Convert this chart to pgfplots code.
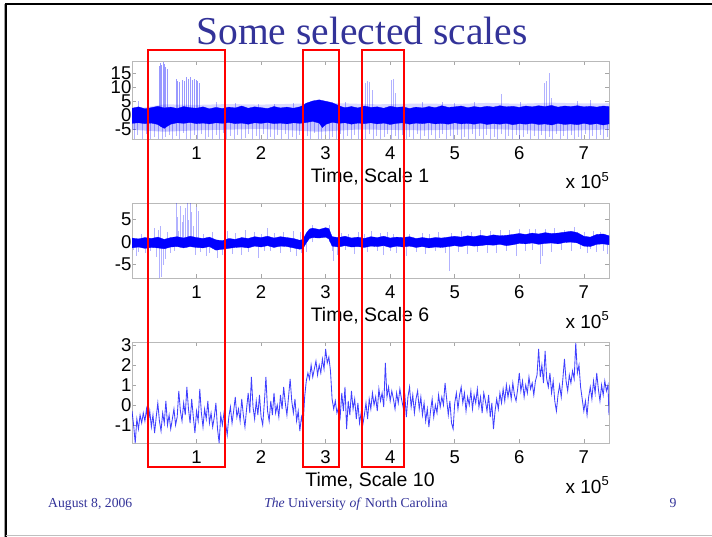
\documentclass[border=0pt]{standalone}
\usepackage{pgfplots}
\pgfplotsset{compat=1.18}
\usepackage{fontspec}
\setmainfont{Liberation Sans}
\newfontfamily\tnr{Liberation Serif}
\definecolor{titleblue}{RGB}{51,51,153}
\definecolor{framegray}{RGB}{160,160,160}
\pgfplotsset{
  slide/.style={scale only axis, width=477pt, xmin=0, xmax=7.39,
    xtick={1,2,3,4,5,6,7},
    axis line style={draw=gray!55}, tick style={draw=gray!70, line width=0.5pt},
    major tick length=4pt, tick align=inside,
    tick label style={font=\fontsize{18.5}{18.5}\selectfont, text=black},
    /pgf/number format/assume math mode=true,
    xticklabel style={inner sep=0pt, yshift=-7.6pt},
    yticklabel style={inner sep=0.5pt},
    anchor=south west, clip=true}
}
\begin{document}
\begin{tikzpicture}
\useasboundingbox (0,0) rectangle (712pt,-537pt);
\fill[white] (0,0) rectangle (712pt,-537pt);

% ---------------- Scale 1 ----------------
\begin{axis}[slide, at={(132pt,-139pt)}, height=78pt, ymin=-8.6, ymax=19.3, ytick={-5,0,5,10,15}]
\addplot[fill=blue, fill opacity=0.22, draw=none] coordinates {
(0,-2.5) (7.39,-2.5) (7.39,-5.2) (6.5,-5.8) (5.5,-5.0) (4.5,-5.5) (3.5,-5.2) (2.9,-6.0) (2.0,-5.0) (1.0,-5.5) (0.5,-6.0) (0,-5.3)};
\addplot[fill=blue, fill opacity=0.15, draw=none] coordinates {
(0,2) (0.5,3.8) (1.0,3.6) (1.5,3.9) (2.0,3.7) (2.5,4.0) (3.2,4.2) (3.8,3.8) (4.5,4.1) (5.0,3.9) (5.5,4.3) (6.0,4.0) (6.5,4.4) (7.0,4.1) (7.39,4.2) (7.39,2) };
\addplot[ycomb, draw=blue, opacity=0.3, line width=0.8pt] coordinates {
(0.03,-8.6) (0.09,-7.2) (0.16,-8.6) (0.22,-6.8) (0.29,-8.6) (0.35,-7.9) (0.41,-8.6) (0.47,-8.6) (0.52,-8.0) (0.58,-7.0) (0.63,-8.6) (0.69,-7.6) (0.74,-8.6) (0.80,-6.5) (0.85,-8.6) (0.91,-8.6) (0.96,-7.3) (1.02,-8.6) (1.08,-6.9) (1.13,-8.6) (1.19,-7.8) (1.24,-8.6) (1.30,-7.1) (1.36,-8.6) (1.41,-6.6) (1.47,-8.6) (1.53,-7.7) (1.58,-8.6) (1.64,-7.0) (1.70,-8.6) (1.75,-8.1) (1.81,-6.8) (1.87,-8.6) (1.92,-7.4) (1.98,-8.6) (2.04,-6.9) (2.09,-8.6) (2.15,-7.8) (2.21,-8.6) (2.26,-7.2) (2.32,-8.6) (2.38,-6.7) (2.43,-8.6) (2.49,-7.9) (2.55,-8.6) (2.60,-7.0) (2.66,-8.6) (2.72,-7.5) (2.77,-8.6) (2.83,-6.6) (2.89,-8.6) (2.94,-8.6) (3.00,-7.3) (3.06,-8.6) (3.11,-7.9) (3.17,-8.6) (3.23,-6.8) (3.28,-8.6) (3.34,-7.6) (3.40,-8.6) (3.45,-7.0) (3.51,-8.6) (3.57,-7.8) (3.62,-8.6) (3.68,-6.9) (3.74,-8.6) (3.79,-7.4) (3.85,-8.6) (3.91,-8.0) (3.96,-6.7) (4.02,-8.6) (4.08,-7.5) (4.13,-8.6) (4.19,-7.1) (4.25,-8.6) (4.30,-7.9) (4.36,-8.6) (4.42,-6.8) (4.47,-8.6) (4.53,-7.6) (4.59,-8.6) (4.64,-7.0) (4.70,-8.6) (4.76,-8.1) (4.81,-6.9) (4.87,-8.6) (4.93,-7.4) (4.98,-8.6) (5.04,-7.0) (5.10,-8.6) (5.15,-7.8) (5.21,-8.6) (5.27,-6.7) (5.32,-8.6) (5.38,-7.5) (5.44,-8.6) (5.49,-7.1) (5.55,-8.6) (5.61,-7.9) (5.66,-8.6) (5.72,-6.8) (5.78,-8.6) (5.83,-7.6) (5.89,-8.6) (5.95,-7.0) (6.00,-8.6) (6.06,-8.0) (6.12,-6.9) (6.17,-8.6) (6.23,-7.4) (6.29,-8.6) (6.34,-7.1) (6.40,-8.6) (6.46,-7.8) (6.51,-8.6) (6.57,-6.8) (6.63,-8.6) (6.68,-7.5) (6.74,-8.6) (6.80,-7.0) (6.85,-8.6) (6.91,-7.9) (6.97,-8.6) (7.02,-6.7) (7.08,-8.6) (7.14,-7.6) (7.19,-8.6) (7.25,-7.1) (7.31,-8.6) (7.36,-7.8)};
\addplot[fill=blue, draw=blue, line width=0.3pt] coordinates {
(0.0,2.4) (0.1,2.9) (0.2,2.2) (0.3,2.6) (0.4,3.1) (0.5,2.5) (0.6,2.8) (0.7,2.3) (0.8,3.0) (0.9,2.6) (1.0,2.4) (1.1,2.9) (1.2,2.2) (1.3,2.7) (1.4,2.3) (1.5,2.8) (1.6,2.5) (1.7,3.2) (1.8,2.4) (1.9,2.9) (2.0,2.6) (2.1,2.3) (2.2,3.0) (2.3,2.5) (2.4,2.8) (2.5,2.4) (2.6,2.9) (2.65,3.4) (2.7,4.2) (2.8,5.0) (2.9,5.4) (3.0,4.9) (3.1,4.4) (3.2,3.4) (3.25,2.9) (3.3,2.6) (3.4,3.0) (3.5,2.5) (3.6,3.2) (3.7,2.7) (3.8,2.9) (3.9,2.4) (4.0,3.1) (4.1,2.7) (4.2,2.9) (4.3,2.3) (4.4,2.8) (4.5,2.5) (4.6,3.0) (4.7,2.6) (4.8,3.3) (4.9,2.7) (5.0,2.9) (5.1,3.2) (5.2,2.6) (5.3,3.0) (5.4,2.7) (5.5,3.1) (5.6,2.8) (5.7,3.3) (5.8,2.9) (5.9,3.1) (6.0,2.7) (6.1,3.2) (6.2,2.9) (6.3,3.3) (6.4,3.0) (6.5,3.4) (6.6,2.8) (6.7,3.2) (6.8,3.0) (6.9,3.3) (7.0,2.9) (7.1,3.1) (7.2,2.8) (7.3,3.2) (7.39,3.0)
(7.39,-3.2) (7.3,-3.6) (7.2,-3.1) (7.1,-3.4) (7.0,-3.0) (6.9,-3.5) (6.8,-3.2) (6.7,-3.4) (6.6,-3.0) (6.5,-3.6) (6.4,-3.2) (6.3,-3.4) (6.2,-3.0) (6.1,-3.3) (6.0,-3.1) (5.9,-3.5) (5.8,-3.0) (5.7,-3.3) (5.6,-3.1) (5.5,-3.4) (5.4,-2.9) (5.3,-3.3) (5.2,-3.0) (5.1,-3.2) (5.0,-2.8) (4.9,-3.3) (4.8,-3.0) (4.7,-3.2) (4.6,-2.8) (4.5,-3.1) (4.4,-2.9) (4.3,-3.3) (4.2,-2.8) (4.1,-3.0) (4.0,-3.4) (3.9,-2.9) (3.8,-3.2) (3.7,-2.8) (3.6,-3.1) (3.5,-2.9) (3.4,-3.3) (3.3,-2.8) (3.2,-3.0) (3.1,-2.6) (3.0,-3.4) (2.95,-4.5) (2.9,-2.9) (2.8,-2.3) (2.7,-2.7) (2.6,-3.0) (2.5,-2.8) (2.4,-3.2) (2.3,-2.9) (2.2,-3.1) (2.1,-2.7) (2.0,-3.0) (1.9,-2.8) (1.8,-3.3) (1.7,-2.9) (1.6,-3.1) (1.5,-2.7) (1.4,-3.0) (1.3,-2.8) (1.2,-3.2) (1.1,-2.9) (1.0,-3.1) (0.9,-2.7) (0.8,-3.0) (0.7,-2.8) (0.6,-3.3) (0.55,-4.0) (0.5,-4.8) (0.45,-4.2) (0.4,-3.4) (0.3,-2.9) (0.2,-3.1) (0.1,-2.8) (0.0,-3.0)};
\addplot[ycomb, draw=blue, opacity=0.3, line width=0.6pt] coordinates {
(0.1,5.0) (1.3,4.5) (1.6,4.3) (1.95,4.0) (2.2,4.0) (2.5,4.2) (3.3,4.5) (3.61,11.5) (3.64,12.3) (3.68,11.8) (3.72,9.0) (4.02,12.5) (4.05,13.0) (4.08,8.0) (4.5,4.5) (4.8,4.8) (5.0,4.2) (5.3,4.5) (5.72,7.5) (6.02,4.6) (6.38,11.5) (6.42,12.0) (6.46,14.9) (6.5,6.0) (6.9,5.0) (7.1,5.5)};
\addplot[ycomb, draw=blue, opacity=0.4, line width=0.7pt] coordinates {
(0.42,17.5) (0.44,18.6) (0.46,17.8) (0.48,18.9) (0.50,18.2) (0.52,17.0) (0.54,16.5)
(0.68,13.0) (0.71,12.2) (0.74,11.8) (0.78,12.6) (0.81,12.0) (0.84,13.4) (0.87,12.8) (0.90,13.6) (0.93,12.4) (0.96,13.0) (0.99,12.5) (1.02,12.2) (1.05,11.5)};
\end{axis}

% ---------------- Scale 6 ----------------
\begin{axis}[slide, at={(132pt,-278pt)}, height=75pt, ymin=-8, ymax=8.7, ytick={-5,0,5}]
\addplot[ycomb, draw=blue, opacity=0.3, line width=0.6pt] coordinates {
(0.02,-1.8) (0.06,-3.0) (0.1,-2.2) (0.15,1.8) (0.2,-2.5) (0.28,-1.9) (0.35,3.2) (0.38,-3.3) (0.4,2.6) (0.42,-8.0) (0.44,3.5) (0.46,-7.8) (0.48,-5.0) (0.52,-3.8) (0.55,2.2) (0.6,-2.4) (0.66,-2.0) (0.68,8.7) (0.7,5.5) (0.72,2.5) (0.75,8.0) (0.78,4.5) (0.8,6.0) (0.83,7.5) (0.85,8.7) (0.87,5.0) (0.9,8.7) (0.92,6.8) (0.95,3.5) (0.98,-2.8) (1.0,7.8) (1.02,7.0) (1.06,-2.2) (1.1,1.9) (1.15,-3.0) (1.2,-2.5) (1.25,2.2) (1.32,-3.5) (1.4,-2.8) (1.48,2.4) (1.55,-2.6) (1.6,2.0) (1.7,-2.8) (1.75,2.6) (1.8,-2.2) (1.9,2.3) (1.95,-3.5) (2.0,1.8) (2.05,-2.0) (2.1,3.2) (2.15,-1.9) (2.2,2.0) (2.3,-2.5) (2.35,2.2) (2.45,-2.2) (2.5,2.5) (2.55,-3.0) (2.6,2.2) (2.62,-2.5) (2.7,-2.2) (2.8,3.8) (3.05,3.7) (3.1,-2.0) (3.12,-4.2) (3.18,-2.8) (3.25,2.1) (3.3,-1.8) (3.35,1.9) (3.45,-2.6) (3.5,2.3) (3.55,-3.5) (3.6,1.8) (3.65,-2.2) (3.7,2.4) (3.8,-2.0) (3.85,2.0) (3.9,-2.8) (3.95,2.2) (4.0,-1.9) (4.05,1.8) (4.1,-2.4) (4.2,2.0) (4.25,-3.2) (4.3,1.9) (4.4,-2.2) (4.5,2.1) (4.55,-2.6) (4.6,1.8) (4.7,-2.0) (4.75,2.2) (4.85,-2.4) (4.92,-6.4) (4.95,2.0) (5.05,-2.2) (5.1,2.4) (5.2,-2.6) (5.25,2.2) (5.35,-2.2) (5.4,2.6) (5.5,-2.5) (5.55,2.5) (5.65,-2.4) (5.7,2.7) (5.8,-2.0) (5.85,2.6) (5.95,-3.0) (6.0,2.9) (6.1,-2.0) (6.15,2.8) (6.2,-1.8) (6.25,3.0) (6.32,-4.8) (6.35,-3.0) (6.4,2.9) (6.5,-2.2) (6.55,3.1) (6.65,-1.8) (6.7,2.7) (6.8,-2.0) (6.85,3.3) (6.95,-1.5) (7.0,2.2) (7.05,-2.5) (7.1,-1.6) (7.15,2.4) (7.2,-2.2) (7.25,2.2) (7.3,-2.0) (7.36,-2.6)};
\addplot[fill=blue, draw=blue, line width=0.3pt] coordinates {
(0.0,0.9) (0.1,0.7) (0.2,1.0) (0.3,0.8) (0.4,1.1) (0.5,0.6) (0.6,1.0) (0.7,1.2) (0.8,0.9) (0.9,1.3) (1.0,1.0) (1.1,0.8) (1.2,1.1) (1.3,0.5) (1.4,0.3) (1.5,0.8) (1.6,0.6) (1.7,1.0) (1.8,0.8) (1.9,1.2) (2.0,1.0) (2.1,1.3) (2.2,0.9) (2.3,1.2) (2.4,1.0) (2.5,0.8) (2.6,0.4) (2.65,0.6) (2.7,2.0) (2.75,2.9) (2.8,3.1) (2.9,2.8) (3.0,3.2) (3.05,3.0) (3.1,1.2) (3.2,1.0) (3.3,1.3) (3.4,0.9) (3.5,1.1) (3.6,0.8) (3.7,1.2) (3.8,1.0) (3.9,1.3) (4.0,0.9) (4.1,1.1) (4.2,1.0) (4.3,1.2) (4.4,0.8) (4.5,1.0) (4.6,0.8) (4.7,1.0) (4.8,0.9) (4.9,1.1) (5.0,1.3) (5.1,1.1) (5.2,1.4) (5.3,1.2) (5.4,1.5) (5.5,1.3) (5.6,1.6) (5.7,1.4) (5.8,1.5) (5.9,1.7) (6.0,1.9) (6.1,1.7) (6.2,2.0) (6.3,1.8) (6.4,2.1) (6.5,1.9) (6.6,2.0) (6.7,2.2) (6.8,2.4) (6.9,2.1) (7.0,1.3) (7.1,1.1) (7.2,1.7) (7.3,1.8) (7.39,1.4)
(7.39,-0.6) (7.3,-0.4) (7.2,-0.5) (7.1,-1.0) (7.0,-0.9) (6.9,-0.2) (6.8,0.0) (6.7,-0.1) (6.6,-0.4) (6.5,-0.2) (6.4,-0.3) (6.3,-0.5) (6.2,-0.2) (6.1,-0.4) (6.0,-0.3) (5.9,-0.6) (5.8,-0.8) (5.7,-0.5) (5.6,-0.7) (5.5,-0.6) (5.4,-0.8) (5.3,-0.9) (5.2,-0.7) (5.1,-1.0) (5.0,-0.8) (4.9,-1.0) (4.8,-1.2) (4.7,-1.1) (4.6,-1.3) (4.5,-1.0) (4.4,-1.2) (4.3,-0.9) (4.2,-1.1) (4.1,-0.9) (4.0,-1.2) (3.9,-0.8) (3.8,-1.0) (3.7,-0.9) (3.6,-1.2) (3.5,-1.0) (3.4,-1.1) (3.3,-0.8) (3.2,-1.1) (3.1,-0.9) (3.05,0.7) (3.0,1.1) (2.9,0.9) (2.8,1.0) (2.75,0.8) (2.7,-0.2) (2.65,-1.4) (2.6,-1.6) (2.5,-1.3) (2.4,-1.0) (2.3,-0.9) (2.2,-1.2) (2.1,-0.8) (2.0,-1.1) (1.9,-0.9) (1.8,-1.3) (1.7,-1.1) (1.6,-1.2) (1.5,-1.4) (1.4,-1.6) (1.3,-1.8) (1.2,-1.0) (1.1,-1.3) (1.0,-1.2) (0.9,-1.0) (0.8,-1.3) (0.7,-1.0) (0.6,-1.1) (0.5,-1.5) (0.4,-1.3) (0.3,-1.2) (0.2,-1.4) (0.1,-1.1) (0.0,-1.3)};
\end{axis}

% ---------------- Scale 10 ----------------
\begin{axis}[slide, at={(132pt,-443pt)}, height=101pt, ymin=-1.9, ymax=3.15, ytick={-1,0,1,2,3}]
\addplot[draw=blue, opacity=0.75, line width=0.85pt] coordinates {
(0.000,-0.3) (0.025,-1.0) (0.050,-1.9) (0.075,-0.7) (0.100,-1.2) (0.125,-0.5) (0.150,-0.9) (0.175,-0.4) (0.200,-0.8) (0.225,-0.2)
(0.250,-0.9) (0.275,-0.3) (0.300,-1.1) (0.325,-0.5) (0.350,-1.4) (0.375,-0.6) (0.400,0.1) (0.425,-0.8) (0.450,-1.3) (0.475,-0.4)
(0.500,-0.9) (0.525,0.2) (0.550,-1.0) (0.575,-0.5) (0.600,-1.2) (0.625,-0.7) (0.650,-0.2) (0.675,-1.0) (0.700,-0.6) (0.725,0.7)
(0.750,-0.3) (0.775,-0.8) (0.800,0.1) (0.825,-0.5) (0.850,0.9) (0.875,-0.2) (0.900,-0.9) (0.925,0.3) (0.950,-0.6) (0.975,-1.4)
(1.000,-0.3) (1.025,-0.8) (1.050,0.8) (1.075,-0.4) (1.100,-1.1) (1.125,-0.2) (1.150,-0.7) (1.175,0.2) (1.200,-0.9) (1.225,-0.4)
(1.250,-1.1) (1.275,-0.6) (1.300,0.1) (1.325,-1.2) (1.350,-1.9) (1.375,-0.5) (1.400,-1.0) (1.425,-0.4) (1.450,-0.9) (1.475,-1.5)
(1.500,-0.6) (1.525,-0.1) (1.550,-0.9) (1.575,-0.3) (1.600,0.4) (1.625,-0.6) (1.650,-0.2) (1.675,-0.8) (1.700,0.3) (1.725,-0.5)
(1.750,-1.1) (1.775,-0.2) (1.800,0.6) (1.825,-0.4) (1.850,1.4) (1.875,-0.1) (1.900,-0.7) (1.925,0.2) (1.950,-0.5) (1.975,0.5)
(2.000,-0.6) (2.025,-1.0) (2.050,0.1) (2.075,1.4) (2.100,-0.3) (2.125,-0.8) (2.150,0.2) (2.175,-0.5) (2.200,0.6) (2.225,-0.4)
(2.250,0.0) (2.275,-0.6) (2.300,0.5) (2.325,-0.2) (2.350,0.9) (2.375,0.1) (2.400,-0.5) (2.425,0.4) (2.450,1.3) (2.475,0.2)
(2.500,-0.4) (2.525,0.3) (2.550,-0.8) (2.575,-0.3) (2.600,-1.3) (2.625,-0.6) (2.650,-1.0) (2.675,0.4) (2.700,1.2) (2.725,1.6)
(2.750,1.3) (2.775,2.0) (2.800,1.4) (2.825,1.8) (2.850,2.2) (2.875,1.5) (2.900,2.0) (2.925,1.6) (2.950,2.3) (2.975,1.8)
(3.000,2.8) (3.025,2.1) (3.050,2.4) (3.075,1.7) (3.100,0.3) (3.125,-0.2) (3.150,0.2) (3.175,-0.4) (3.200,-0.1) (3.225,-0.6)
(3.250,0.6) (3.275,-0.3) (3.300,0.9) (3.325,-1.2) (3.350,0.2) (3.375,-0.5) (3.400,0.7) (3.425,-0.2) (3.450,0.3) (3.475,-0.7)
(3.500,0.1) (3.525,-0.9) (3.550,-0.4) (3.575,-1.0) (3.600,-0.5) (3.625,0.1) (3.650,-0.7) (3.675,0.3) (3.700,-0.2) (3.725,0.6)
(3.750,0.0) (3.775,0.4) (3.800,-0.3) (3.825,0.8) (3.850,0.2) (3.875,0.6) (3.900,-0.1) (3.925,2.1) (3.950,0.4) (3.975,0.9)
(4.000,0.2) (4.025,0.7) (4.050,0.3) (4.075,-0.2) (4.100,0.6) (4.125,0.1) (4.150,0.8) (4.175,0.3) (4.200,-0.1) (4.225,0.6)
(4.250,-0.6) (4.275,0.4) (4.300,0.9) (4.325,-0.1) (4.350,0.5) (4.375,-0.4) (4.400,0.3) (4.425,0.7) (4.450,-0.2) (4.475,0.4)
(4.500,-0.5) (4.525,0.1) (4.550,-0.8) (4.575,-0.2) (4.600,-1.1) (4.625,-0.3) (4.650,0.3) (4.675,-0.6) (4.700,0.0) (4.725,-0.4)
(4.750,0.5) (4.775,-0.1) (4.800,0.4) (4.825,0.0) (4.850,1.1) (4.875,0.3) (4.900,-0.5) (4.925,0.2) (4.950,-0.9) (4.975,-1.2)
(5.000,0.1) (5.025,0.6) (5.050,-0.2) (5.075,0.5) (5.100,0.9) (5.125,0.1) (5.150,0.6) (5.175,-0.3) (5.200,0.4) (5.225,0.0)
(5.250,0.7) (5.275,-0.2) (5.300,0.5) (5.325,0.1) (5.350,0.8) (5.375,-0.1) (5.400,0.4) (5.425,-0.4) (5.450,0.6) (5.475,0.2)
(5.500,-0.3) (5.525,0.5) (5.550,-0.6) (5.575,0.1) (5.600,-1.2) (5.625,-0.3) (5.650,0.3) (5.675,-0.2) (5.700,0.6) (5.725,0.1)
(5.750,0.8) (5.775,0.2) (5.800,1.0) (5.825,0.4) (5.850,0.9) (5.875,0.3) (5.900,1.1) (5.925,0.5) (5.950,0.2) (5.975,0.8)
(6.000,1.6) (6.025,0.7) (6.050,1.2) (6.075,0.4) (6.100,1.0) (6.125,0.6) (6.150,1.4) (6.175,0.8) (6.200,1.1) (6.225,0.5)
(6.250,1.2) (6.275,1.5) (6.300,2.8) (6.325,1.4) (6.350,2.0) (6.375,1.1) (6.400,2.7) (6.425,1.3) (6.450,0.9) (6.475,1.6)
(6.500,0.6) (6.525,1.2) (6.550,0.2) (6.575,-0.3) (6.600,0.5) (6.625,1.0) (6.650,0.4) (6.675,1.3) (6.700,2.3) (6.725,1.2)
(6.750,0.7) (6.775,1.5) (6.800,1.1) (6.825,1.7) (6.850,1.3) (6.875,3.1) (6.900,1.6) (6.925,2.0) (6.950,0.9) (6.975,0.3)
(7.000,-0.3) (7.025,0.2) (7.050,-0.5) (7.075,0.4) (7.100,0.9) (7.125,0.3) (7.150,1.2) (7.175,0.6) (7.200,1.6) (7.225,0.8)
(7.250,0.2) (7.275,1.0) (7.300,0.5) (7.325,1.2) (7.350,0.7) (7.375,1.0) (7.390,-0.5)};
\end{axis}

\begin{scope}[x=1pt, y=-1pt]
% frame
\draw[framegray, line width=0.8pt] (4.2,4) -- (4.2,537);
\draw[black, line width=2pt] (6,537) -- (6,4) -- (712,4);
\draw[black!25, line width=1pt] (6,535.5) -- (712,535.5);
% title
\node[anchor=base, text=titleblue, font=\tnr\fontsize{39.5}{40}\selectfont, inner sep=0pt] at (362,45) {Some selected scales};
% axis labels
\foreach \yb/\lab in {139/1, 278/6, 443/10} {
  \node[anchor=center, font=\fontsize{19.5}{19.5}\selectfont, inner sep=0pt] at (370,\yb+37.5) {Time, Scale \lab};
  \node[anchor=base east, font=\fontsize{19}{19}\selectfont, inner sep=0pt] at (609,\yb+50) {x 10\raisebox{7.5pt}{\fontsize{13}{13}\selectfont 5}};
}
% red boxes
\draw[red, line width=1.1pt] (148,50) rectangle (225,467);
\draw[red, line width=1.1pt] (303,50) rectangle (339,467);
\draw[red, line width=1.1pt] (362,50) rectangle (404,467);
% footer
\node[anchor=base west, text=titleblue, font=\tnr\fontsize{13.7}{14}\selectfont, inner sep=0pt] at (48,507) {August 8, 2006};
\node[anchor=base, text=titleblue, font=\tnr\fontsize{13.7}{14}\selectfont, inner sep=0pt] at (356,507) {\textit{The} University \textit{of} North Carolina};
\node[anchor=base, text=titleblue, font=\tnr\fontsize{13.7}{14}\selectfont, inner sep=0pt] at (673,507) {9};
\end{scope}
\end{tikzpicture}
\end{document}
